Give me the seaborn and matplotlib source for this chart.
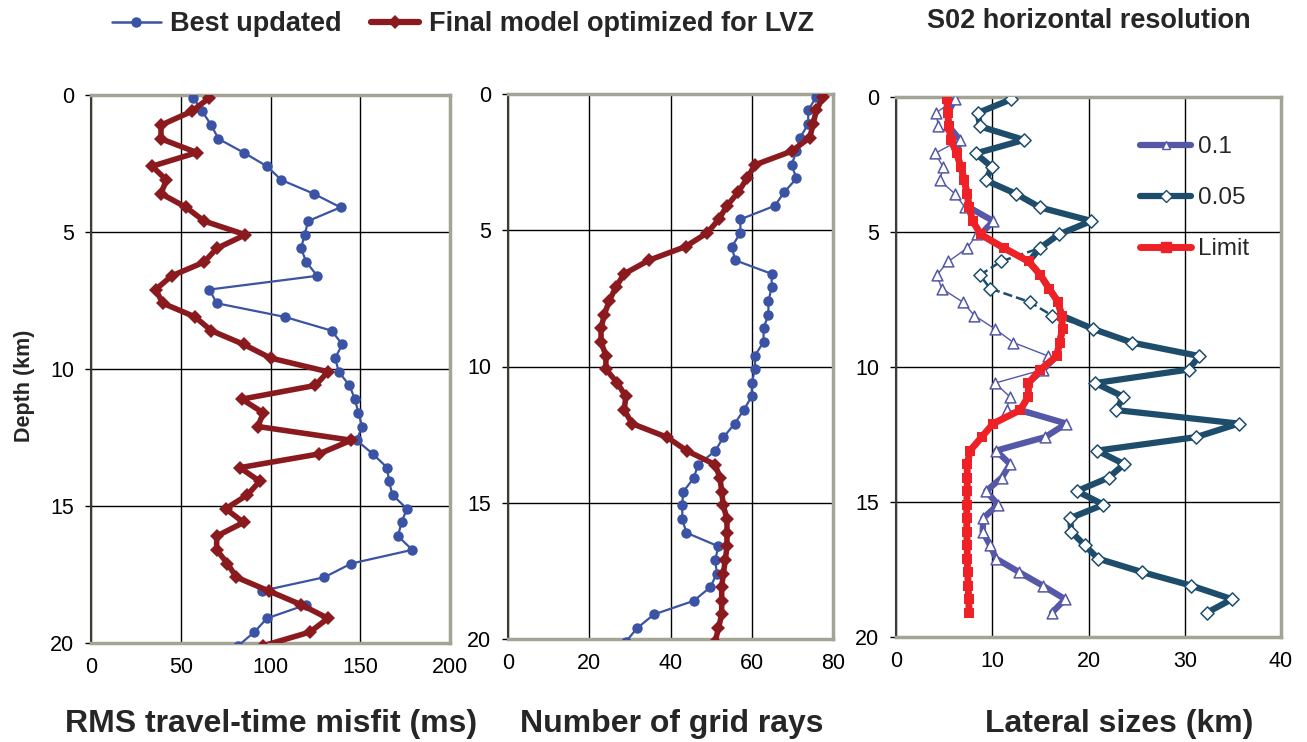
import numpy as np
import pandas as pd
import matplotlib
matplotlib.use("Agg")
import matplotlib.pyplot as plt
import seaborn as sns
from matplotlib.lines import Line2D

# ---------------- data ----------------
depth_a = [0.1, 0.6, 1.1, 1.6, 2.1, 2.6, 3.1, 3.6, 4.1, 4.6,
           5.1, 5.6, 6.1, 6.6, 7.1, 7.6, 8.1, 8.6, 9.1, 9.6,
           10.1, 10.6, 11.1, 11.6, 12.1, 12.6, 13.1, 13.6, 14.1, 14.6,
           15.1, 15.6, 16.1, 16.6, 17.1, 17.6, 18.1, 18.6, 19.1, 19.6, 20.1]

rms_best = [57, 62, 67, 71, 85, 98, 106, 124, 139, 121,
            119, 117, 120, 126, 66, 70, 108, 134, 140, 136,
            138, 144, 147, 149, 151, 148, 157, 165, 166, 168,
            176, 173, 171, 179, 145, 130, 95, 120, 98, 91, 82]
rms_final = [66, 56, 39, 39, 59, 34, 42, 39, 53, 63,
             86, 70, 63, 45, 36, 40, 58, 67, 85, 100,
             132, 125, 84, 96, 93, 145, 127, 83, 94, 87,
             75, 85, 70, 70, 76, 81, 99, 117, 132, 122, 96]

rays_best = [75.9, 73.9, 73.9, 71.9, 71.0, 69.8, 71.0, 68.0, 65.7, 57.2,
             57.2, 55.1, 55.9, 64.9, 64.9, 64.1, 64.1, 62.9, 62.9, 60.8,
             60.8, 60.0, 60.0, 58.0, 55.8, 53.0, 51.0, 46.8, 45.7, 43.1,
             42.9, 42.9, 43.9, 51.8, 51.0, 51.4, 49.8, 45.7, 35.9, 31.8, 29.0]
rays_final = [77.6, 75.9, 75.1, 74.3, 69.8, 60.8, 58.8, 56.7, 53.9, 51.9,
              49.0, 43.7, 34.7, 28.6, 26.5, 24.9, 23.7, 22.9, 22.9, 24.1,
              24.1, 26.9, 29.0, 28.6, 30.6, 39.2, 44.1, 51.0, 52.2, 52.6,
              53.0, 53.9, 53.9, 53.9, 53.5, 53.0, 52.6, 52.6, 52.6, 51.8, 51.0]

depth_b = [0.1, 0.6, 1.1, 1.6, 2.1, 2.6, 3.1, 3.6, 4.1, 4.6,
           5.1, 5.6, 6.1, 6.6, 7.1, 7.6, 8.1, 8.6, 9.1, 9.6,
           10.1, 10.6, 11.1, 11.6, 12.1, 12.6, 13.1, 13.6, 14.1, 14.6,
           15.1, 15.6, 16.1, 16.6, 17.1, 17.6, 18.1, 18.6, 19.1]
res_01 = [6.13, 4.16, 4.4, 6.65, 4.05, 4.9, 4.57, 6.13, 7.17, 10.1,
          8.4, 7.4, 5.44, 4.23, 4.75, 6.93, 8.14, 10.3, 12.2, 15.8,
          15.3, 10.3, 11.8, 11.5, 17.7, 15.5, 10.4, 11.85, 11.0, 9.36,
          10.6, 9.07, 9.0, 9.77, 10.4, 12.8, 15.25, 17.57, 16.2]
res_005 = [11.95, 8.5, 8.73, 13.3, 8.28, 9.94, 9.35, 12.5, 14.97, 20.3,
           16.9, 14.97, 10.9, 8.73, 9.77, 13.9, 16.2, 20.5, 24.5, 31.5,
           30.4, 20.7, 23.6, 22.9, 35.6, 31.2, 20.9, 23.7, 22.1, 18.8,
           21.55, 18.1, 18.2, 19.6, 21.0, 25.6, 30.7, 34.9, 32.3]
res_limit = [5.27, 5.37, 5.5, 5.7, 6.3, 6.75, 7.1, 7.4, 7.6, 7.97,
             8.8, 11.2, 13.8, 15.0, 15.9, 16.85, 17.2, 17.3, 17.0, 16.7,
             15.0, 13.75, 13.75, 12.9, 10.1, 8.9, 7.7, 7.4, 7.4, 7.4,
             7.35, 7.35, 7.35, 7.4, 7.4, 7.45, 7.5, 7.55, 7.6]

depth_ticks = [0, 5, 10, 15, 20]
rms_ticks = [0, 50, 100, 150, 200]
rays_ticks = [0, 20, 40, 60, 80]
lat_ticks = [0, 10, 20, 30, 40]

series_labels = ["Best updated", "Final model optimized for LVZ"]
res_labels = ["0.1", "0.05", "Limit"]

# ---------------- style ----------------
sns.set_theme(style="white")
plt.rcParams["font.family"] = ["Liberation Sans", "DejaVu Sans"]

BLUE = "#3a53a4"
DRED = "#8b1a1e"
PURP = "#5557a7"
TEAL = "#1d4d6b"
LRED = "#ee2226"
SPG = "#a3a396"
SPD = "#3c3c34"

fig = plt.figure(figsize=(13.07, 7.42), dpi=100)
W, H = 1307.0, 742.0


def add_axes(l, r, t, b):
    return fig.add_axes([l / W, 1 - b / H, (r - l) / W, (b - t) / H])


ax1 = add_axes(91, 450, 95, 643)
ax2 = add_axes(508, 833, 94, 639)
ax3 = add_axes(896, 1281, 96.7, 637)


def style_axes(ax, xlim, xticks):
    ax.set_xlim(*xlim)
    ax.set_ylim(20, 0)
    ax.set_xticks(xticks)
    ax.set_yticks(depth_ticks)
    ax.grid(True, color="black", linewidth=1.0)
    ax.set_axisbelow(True)
    for s in ["top", "right", "bottom"]:
        ax.spines[s].set_color(SPG)
        ax.spines[s].set_linewidth(2.5)
    ax.spines["left"].set_color(SPD)
    ax.spines["left"].set_linewidth(1.5)
    ax.tick_params(axis="x", length=0, pad=10, labelsize=15.5, colors="black")
    ax.tick_params(axis="y", length=4, width=1, direction="out", pad=8,
                   labelsize=15.5, colors="black", left=True)
    ax.set_xlabel("")
    ax.set_ylabel("")


# ---------- panel 1 ----------
sns.lineplot(x=rms_best, y=depth_a, sort=False, estimator=None, ax=ax1,
             color=BLUE, linewidth=1.6, marker="o", markersize=7.5,
             markeredgecolor=BLUE, markeredgewidth=0, zorder=3)
sns.lineplot(x=rms_final, y=depth_a, sort=False, estimator=None, ax=ax1,
             color=DRED, linewidth=4.0, marker="D", markersize=7.5,
             markeredgecolor=DRED, markeredgewidth=0, zorder=4)
style_axes(ax1, (0, 200), rms_ticks)

# ---------- panel 2 ----------
sns.lineplot(x=rays_best, y=depth_a, sort=False, estimator=None, ax=ax2,
             color=BLUE, linewidth=1.6, marker="o", markersize=7.5,
             markeredgecolor=BLUE, markeredgewidth=0, zorder=3)
sns.lineplot(x=rays_final, y=depth_a, sort=False, estimator=None, ax=ax2,
             color=DRED, linewidth=4.0, marker="D", markersize=7.5,
             markeredgecolor=DRED, markeredgewidth=0, zorder=4)
style_axes(ax2, (0, 80), rays_ticks)

# ---------- panel 3 ----------
thick_01 = np.maximum(np.array(res_01), np.array(res_limit))
thick_005 = np.maximum(np.array(res_005), np.array(res_limit))

sns.lineplot(x=res_01, y=depth_b, sort=False, estimator=None, ax=ax3,
             color=PURP, linewidth=1.0, zorder=2)
sns.lineplot(x=res_005, y=depth_b, sort=False, estimator=None, ax=ax3,
             color=TEAL, linewidth=1.8, linestyle="--", zorder=2)
sns.lineplot(x=thick_01, y=depth_b, sort=False, estimator=None, ax=ax3,
             color=PURP, linewidth=4.5, zorder=3)
sns.lineplot(x=thick_005, y=depth_b, sort=False, estimator=None, ax=ax3,
             color=TEAL, linewidth=4.5, zorder=3)
sns.scatterplot(x=res_01, y=depth_b, ax=ax3, marker="^", s=60,
                facecolor="white", edgecolor=PURP, linewidth=1.1, zorder=4)
sns.scatterplot(x=res_005, y=depth_b, ax=ax3, marker="D", s=45,
                facecolor="white", edgecolor=TEAL, linewidth=1.1, zorder=4)
sns.lineplot(x=res_limit, y=depth_b, sort=False, estimator=None, ax=ax3,
             color=LRED, linewidth=5.0, marker="s", markersize=6.5,
             markeredgecolor=LRED, markeredgewidth=0, zorder=5)
style_axes(ax3, (0, 40), lat_ticks)

h3 = [
    Line2D([], [], color=PURP, linewidth=4.5, marker="^", markersize=6,
           markerfacecolor="white", markeredgecolor=PURP, markeredgewidth=1),
    Line2D([], [], color=TEAL, linewidth=4.5, marker="D", markersize=6,
           markerfacecolor="white", markeredgecolor=TEAL, markeredgewidth=1),
    Line2D([], [], color=LRED, linewidth=5.0, marker="s", markersize=6.5,
           markerfacecolor=LRED, markeredgecolor=LRED),
]
ax3.legend(h3, res_labels, loc="upper left",
           bbox_to_anchor=((1140 - 896) / 385.0, 1 - (136 - 96.7) / 540.3),
           frameon=False, fontsize=17.5, handlelength=2.1, handletextpad=0.3,
           labelspacing=1.2, borderpad=0, borderaxespad=0)

# ---------- top legend ----------
h_top = [
    Line2D([], [], color=BLUE, linewidth=1.8, marker="o", markersize=7.5,
           markeredgewidth=0),
    Line2D([], [], color=DRED, linewidth=4.5, marker="D", markersize=7.5,
           markeredgewidth=0),
]
fig.legend(h_top, series_labels, loc="center left",
           bbox_to_anchor=(112 / W, 1 - 24 / H), ncol=2, frameon=False,
           prop={"weight": "bold", "size": 19.5}, handlelength=1.8,
           handletextpad=0.36, columnspacing=1.05, borderpad=0,
           borderaxespad=0)

# ---------- titles / labels ----------
fig.text(1089 / W, 1 - 28 / H, "S02 horizontal resolution", ha="center",
         va="baseline", fontsize=19.5, fontweight="bold")
fig.text(271 / W, 1 - 732 / H, "RMS travel-time misfit (ms)", ha="center",
         va="baseline", fontsize=23, fontweight="bold")
fig.text(672 / W, 1 - 732 / H, "Number of grid rays", ha="center",
         va="baseline", fontsize=23, fontweight="bold")
fig.text(1119 / W, 1 - 732 / H, "Lateral sizes (km)", ha="center",
         va="baseline", fontsize=23, fontweight="bold")
fig.text(25 / W, 1 - 386 / H, "Depth (km)", ha="center", va="center",
         rotation=90, fontsize=15.5, fontweight="bold")

fig.savefig("out.png", dpi=100)
